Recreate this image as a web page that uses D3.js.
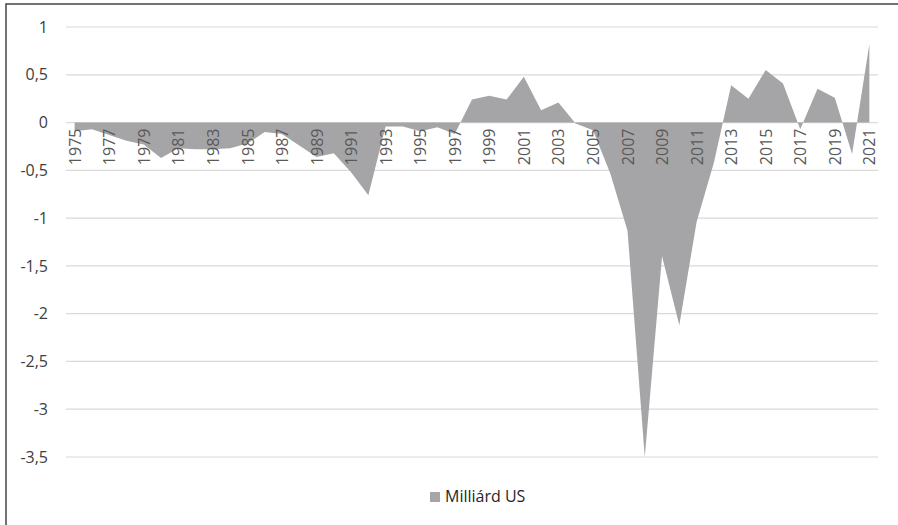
<!DOCTYPE html>
<html>
<head>
<meta charset="utf-8">
<script src="https://cdn.jsdelivr.net/npm/d3@7.9.0/dist/d3.min.js"></script>
<style>
  html, body { margin: 0; padding: 0; background: #fff; }
  svg { display: block; font-family: "Open Sans", sans-serif; }
</style>
</head>
<body>
<svg id="chart" width="898" height="525"></svg>
<script>
const years = d3.range(1975, 2022);

const values = [
  -0.09, -0.07, -0.13, -0.19, -0.23, -0.37, -0.27, -0.28, -0.28, -0.27,
  -0.22, -0.10, -0.12, -0.24, -0.36, -0.32, -0.52, -0.76, -0.04, -0.04,
  -0.09, -0.05, -0.12, 0.24, 0.28, 0.24, 0.48, 0.13, 0.21, -0.01,
  -0.08, -0.53, -1.13, -3.5, -1.40, -2.12, -1.04, -0.42, 0.39, 0.25,
  0.55, 0.41, -0.07, 0.355, 0.26, -0.33, 0.82
];

const yTicks = [1, 0.5, 0, -0.5, -1, -1.5, -2, -2.5, -3, -3.5];
const seriesName = 'Milliárd US';

const data = years.map((yr, i) => ({ year: yr, value: values[i] }));

const svg = d3.select('#chart');

// frame (right and bottom edges fall outside the picture)
svg.append('rect')
  .attr('x', 6).attr('y', 4)
  .attr('width', 910).attr('height', 540)
  .attr('fill', 'none')
  .attr('stroke', '#444')
  .attr('stroke-width', 1.5);

const x = d3.scalePoint()
  .domain(years)
  .range([66, 878])
  .padding(0.5);

const y = d3.scaleLinear()
  .domain([-3.5, 1])
  .range([457, 27]);

const locale = d3.formatLocale({ decimal: ',', thousands: ' ', grouping: [3], currency: ['', ''], minus: '-' });
const fmt = locale.format('~g');

// gridlines
svg.append('g')
  .selectAll('line')
  .data(yTicks)
  .join('line')
  .attr('x1', 66).attr('x2', 878)
  .attr('y1', d => y(d)).attr('y2', d => y(d))
  .attr('stroke', '#d9d9d9')
  .attr('stroke-width', 1.2);

// area
const area = d3.area()
  .x(d => x(d.year))
  .y0(y(0))
  .y1(d => y(d.value));

svg.append('path')
  .datum(data)
  .attr('d', area)
  .attr('fill', '#a5a5a8');

// y axis
const yAxis = d3.axisLeft(y)
  .tickValues(yTicks)
  .tickFormat(fmt)
  .tickSize(0)
  .tickPadding(0);

svg.append('g')
  .attr('transform', 'translate(48,0)')
  .call(yAxis)
  .call(g => g.select('.domain').remove())
  .selectAll('text')
  .attr('font-size', 16)
  .attr('font-family', '"Open Sans", sans-serif')
  .attr('fill', '#404040');

// x axis, every second year, rotated
const xAxis = d3.axisBottom(x)
  .tickValues(years.filter((d, i) => i % 2 === 0))
  .tickSize(0);

svg.append('g')
  .attr('transform', `translate(0,${y(0)})`)
  .call(xAxis)
  .call(g => g.select('.domain').remove())
  .selectAll('text')
  .attr('font-size', 16)
  .attr('font-family', '"Open Sans", sans-serif')
  .attr('fill', '#595959')
  .attr('text-anchor', 'end')
  .attr('transform', 'rotate(-90)')
  .attr('x', -6)
  .attr('y', 0)
  .attr('dy', '0.35em');

// legend
const legend = svg.append('g').attr('transform', 'translate(430,492)');
legend.append('rect')
  .attr('width', 10).attr('height', 10)
  .attr('fill', '#a5a5a8');
legend.append('text')
  .attr('x', 15).attr('y', 10)
  .attr('font-size', 16)
  .attr('fill', '#262626')
  .text(seriesName);
</script>
</body>
</html>
